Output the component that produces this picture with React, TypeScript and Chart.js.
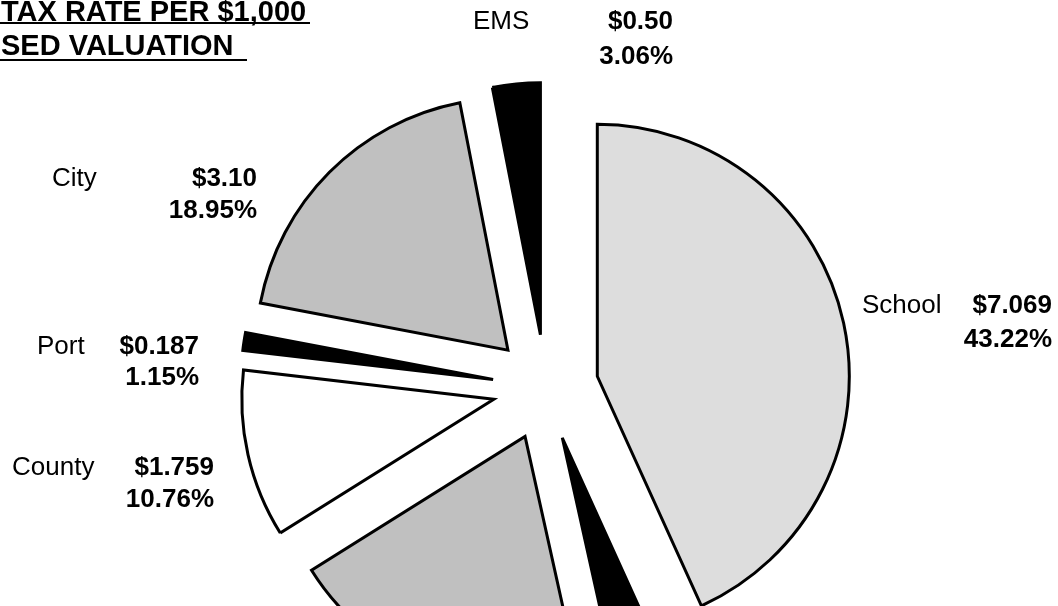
import React, { useEffect, useRef } from 'react';
import { Chart, registerables } from 'chart.js';

Chart.register(...registerables);

// ---- data (clockwise from 12 o'clock) ----
const CATEGORIES = ['School', 'Levy A', 'Levy B', 'County', 'Port', 'City', 'EMS'];
const RATES = [7.069, 0.54, 3.2, 1.759, 0.187, 3.1, 0.5];
const RATE_LABELS = ['$7.069', '', '', '$1.759', '$0.187', '$3.10', '$0.50'];
const PERCENT_LABELS = ['43.22%', '', '', '10.76%', '1.15%', '18.95%', '3.06%'];
const FILLS = ['#DDDDDD', '#000000', '#C0C0C0', '#FFFFFF', '#000000', '#C0C0C0', '#000000'];
const TITLE_LINES = ['TAX RATE PER $1,000', 'SED VALUATION'];

// ---- layout / style ----
const W = 1058;
const H = 606;
const EXPLODE = 53;
const RADIUS = 252;
const FONT = '"Liberation Sans", Arial, sans-serif';

const LABEL_LAYOUT: Record<string, { nameX: number; valueRight: number; y1: number; y2: number }> = {
  School: { nameX: 862, valueRight: 1052, y1: 313, y2: 347 },
  EMS: { nameX: 473, valueRight: 673, y1: 29, y2: 64 },
  City: { nameX: 52, valueRight: 257, y1: 186, y2: 218 },
  Port: { nameX: 37, valueRight: 199, y1: 354, y2: 385 },
  County: { nameX: 12, valueRight: 214, y1: 475, y2: 507 },
};

const explodePlugin = {
  id: 'explodeSlices',
  beforeDatasetDraw(chart: any, args: any) {
    const ctx = chart.ctx;
    args.meta.data.forEach((arc: any) => {
      const mid = (arc.startAngle + arc.endAngle) / 2;
      ctx.save();
      ctx.miterLimit = 3.5;
      ctx.translate(Math.cos(mid) * EXPLODE, Math.sin(mid) * EXPLODE);
      arc.draw(ctx);
      ctx.restore();
    });
    return false;
  },
};

const textPlugin = {
  id: 'textLabels',
  afterDraw(chart: any) {
    const ctx = chart.ctx;
    ctx.save();
    ctx.fillStyle = '#000';
    ctx.textBaseline = 'alphabetic';
    // title
    ctx.font = `bold 29px ${FONT}`;
    ctx.textAlign = 'left';
    ctx.fillText(TITLE_LINES[0], 1, 21);
    ctx.fillText(TITLE_LINES[1], 1, 55);
    ctx.fillRect(0, 22, 310, 2);
    ctx.fillRect(0, 59, 247, 2);
    // slice labels
    CATEGORIES.forEach((cat, i) => {
      const lay = LABEL_LAYOUT[cat];
      if (!lay) return;
      ctx.font = `26px ${FONT}`;
      ctx.textAlign = 'left';
      ctx.fillText(cat, lay.nameX, lay.y1);
      ctx.font = `bold 26px ${FONT}`;
      ctx.textAlign = 'right';
      ctx.fillText(RATE_LABELS[i], lay.valueRight, lay.y1);
      ctx.fillText(PERCENT_LABELS[i], lay.valueRight, lay.y2);
    });
    ctx.restore();
  },
};

export default function App() {
  const ref = useRef<HTMLCanvasElement | null>(null);
  useEffect(() => {
    if (!ref.current) return;
    const chart = new Chart(ref.current, {
      type: 'pie',
      data: {
        labels: CATEGORIES,
        datasets: [
          {
            data: RATES,
            backgroundColor: FILLS,
            borderColor: '#000000',
            borderWidth: 3,
            borderJoinStyle: 'miter',
          } as any,
        ],
      },
      options: {
        animation: false,
        responsive: false,
        devicePixelRatio: 1,
        radius: RADIUS,
        layout: { padding: { left: 33, right: 0, top: 169, bottom: 0 } },
        plugins: {
          legend: { display: false },
          title: { display: false },
          tooltip: { enabled: false },
        },
        events: [],
      } as any,
      plugins: [explodePlugin, textPlugin],
    });
    return () => chart.destroy();
  }, []);
  return (
    <div style={{ position: 'fixed', left: 0, top: 0, width: W, height: H, background: '#fff', overflow: 'hidden' }}>
      <canvas ref={ref} width={W} height={H} style={{ display: 'block' }} />
    </div>
  );
}
